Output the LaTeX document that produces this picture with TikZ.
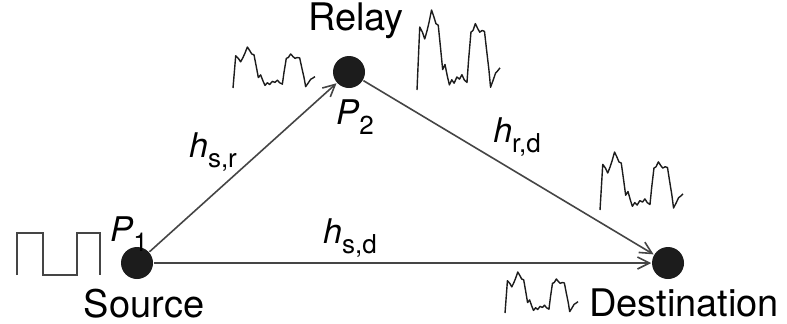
\documentclass[tikz,border=0pt]{standalone}
\usepackage{fontspec}
\setmainfont{TeX Gyre Heros}
\usetikzlibrary{arrows.meta,positioning}
\definecolor{ink}{HTML}{1C1C1C}
\definecolor{wire}{HTML}{454545}
\newcommand\chan[2]{\textit{#1}\raisebox{-0.6ex}{\fontsize{6.5}{7}\selectfont #2}}

% one noisy received signal, drawn in a unit box
\tikzset{
  wave/.pic={
    \draw[ink,line width=0.35pt,line join=round] plot coordinates {
      (0,0) (0.033,0.787) (0.065,0.723) (0.093,0.638) (0.122,0.745) (0.146,0.851)
      (0.175,1) (0.203,0.915) (0.228,0.830) (0.256,0.809) (0.285,0.511) (0.309,0.255)
      (0.337,0.319) (0.366,0.170) (0.390,0.064) (0.419,0.128) (0.447,0.085) (0.480,0.162)
      (0.512,0.136) (0.541,0.191) (0.569,0.128) (0.602,0.094) (0.622,0.383) (0.650,0.723)
      (0.675,0.745) (0.703,0.830) (0.732,0.766) (0.756,0.723) (0.785,0.745) (0.813,0.732)
      (0.837,0.511) (0.866,0.255) (0.886,0.034) (0.919,0.128) (0.947,0.213) (0.967,0.234)
      (1,0.277)};
  }
}

\begin{document}
\begin{tikzpicture}[x=0.25pt,y=0.25pt,font=\fontsize{9.5}{11}\selectfont,
    dot/.style={circle,fill=ink,minimum size=8pt,inner sep=0pt},
    link/.style={wire,line width=0.4pt,-{Straight Barb[length=3pt,width=3pt]}},
    lbl/.style={inner sep=0pt,font=\fontsize{8.5}{10}\selectfont}]
  \useasboundingbox (0,0) rectangle (787,323);

  % terminals
  \node[dot] (src) at (137,60) {};
  \node[dot] (rly) at (349,251) {};
  \node[dot] (dst) at (668,60) {};
  \node[inner sep=0pt,below=2pt of src,xshift=1.75pt] (srcname) {Source};
  \node[inner sep=0pt,above=4pt of rly,xshift=1.75pt] (rlyname) {Relay};
  \node[inner sep=0pt,below=2pt of dst,xshift=4pt] (dstname) {Destination};

  % links
  \draw[link] (src) -- (rly);
  \draw[link] (rly) -- (dst);
  \draw[link] (src) -- (dst);

  % powers and channels
  \node[lbl] (p1) at (129,89) {\chan{P}{1}};
  \node[lbl] (p2) at (355,206) {\chan{P}{2}};
  \node[lbl] (hsr) at (213,171) {\chan{h}{s,r}};
  \node[lbl] (hrd) at (517,186) {\chan{h}{r,d}};
  \node[lbl] (hsd) at (350,85) {\chan{h}{s,d}};

  % transmitted pulse train
  \draw[wire,line width=0.4pt] (17,48) -- (17,90) -- (43,90) -- (43,48) -- (77,48)
    -- (77,90) -- (100,90) -- (100,48);

  % received signals
  \pic[xscale=82,yscale=41] (w1) at (233,235) {wave};
  \pic[xscale=83,yscale=80] (w2) at (417,233) {wave};
  \pic[xscale=83,yscale=58] (w3) at (600,113) {wave};
  \pic[xscale=73,yscale=41] (w4) at (505,10) {wave};
\end{tikzpicture}
\end{document}
